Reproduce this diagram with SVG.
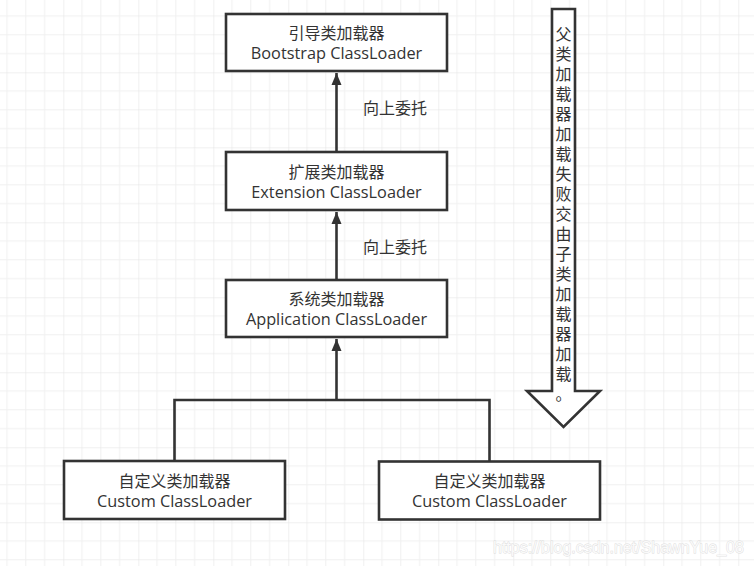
<svg xmlns="http://www.w3.org/2000/svg" width="754" height="566" viewBox="0 0 754 566">
<defs>
<pattern id="grid" patternUnits="userSpaceOnUse" x="-11.7" y="-2.7" width="75" height="75">
<path d="M18.75 0V75M37.5 0V75M56.25 0V75M0 18.75H75M0 37.5H75M0 56.25H75" stroke="#f0f0f0" stroke-width="1" fill="none"/>
<path d="M0 0V75M0 0H75" stroke="#e2e2e2" stroke-width="1" fill="none"/>
</pattern>
<marker id="arr" markerUnits="userSpaceOnUse" markerWidth="12" markerHeight="14" viewBox="0 0 12 14" refX="12" refY="6" orient="auto">
<path d="M0 1L12 6L0 11Z" fill="#333"/>
</marker>
<style>
.box{fill:#fff;stroke:#333;stroke-width:2.6}
.t{font-family:"Open Sans","Noto Sans CJK SC",sans-serif;font-size:16px;fill:#333;text-anchor:middle}
.e{font-size:16.3px}
.l{font-family:"Open Sans","Noto Sans CJK SC",sans-serif;font-size:16px;fill:#333}
.c{fill:none;stroke:#333;stroke-width:2.6}
</style>
</defs>
<rect width="754" height="566" fill="#fff"/>
<rect width="754" height="566" fill="url(#grid)"/>
<g id="connectors">
<path class="c" d="M336.5 152V73" marker-end="url(#arr)"/>
<path class="c" d="M336.5 280V212" marker-end="url(#arr)"/>
<path class="c" d="M336.5 400V339" marker-end="url(#arr)"/>
<path class="c" d="M174.5 461V400H489.5V461"/>
<text class="l" x="363" y="114">向上委托</text>
<text class="l" x="363" y="253">向上委托</text>
</g>
<g id="bootstrap">
<rect class="box" x="226" y="14" width="221" height="57"/>
<text class="t" x="336.5" y="39">引导类加载器</text>
<text class="t e" x="336.5" y="59.3">Bootstrap ClassLoader</text>
</g>
<g id="extension">
<rect class="box" x="226" y="152" width="221" height="58"/>
<text class="t" x="336.5" y="178">扩展类加载器</text>
<text class="t e" x="336.5" y="198.3">Extension ClassLoader</text>
</g>
<g id="application">
<rect class="box" x="226" y="280" width="221" height="57"/>
<text class="t" x="336.5" y="304.8">系统类加载器</text>
<text class="t e" x="336.5" y="325">Application ClassLoader</text>
</g>
<g id="custom1">
<rect class="box" x="64" y="461" width="221" height="58"/>
<text class="t" x="174.5" y="486.5">自定义类加载器</text>
<text class="t e" x="174.5" y="506.8">Custom ClassLoader</text>
</g>
<g id="custom2">
<rect class="box" x="379" y="461.5" width="221" height="58"/>
<text class="t" x="489.5" y="487">自定义类加载器</text>
<text class="t e" x="489.5" y="507.3">Custom ClassLoader</text>
</g>
<g id="fallback-arrow">
<polygon class="box" points="552,9 575,9 575,391 600,391 563.5,427 527,391 552,391"/>
<text class="t" x="563.5" y="40"><tspan x="563.5">父</tspan><tspan x="563.5" dy="20">类</tspan><tspan x="563.5" dy="20">加</tspan><tspan x="563.5" dy="20">载</tspan><tspan x="563.5" dy="20">器</tspan><tspan x="563.5" dy="20">加</tspan><tspan x="563.5" dy="20">载</tspan><tspan x="563.5" dy="20">失</tspan><tspan x="563.5" dy="20">败</tspan><tspan x="563.5" dy="20">交</tspan><tspan x="563.5" dy="20">由</tspan><tspan x="563.5" dy="20">子</tspan><tspan x="563.5" dy="20">类</tspan><tspan x="563.5" dy="20">加</tspan><tspan x="563.5" dy="20">载</tspan><tspan x="563.5" dy="20">器</tspan><tspan x="563.5" dy="20">加</tspan><tspan x="563.5" dy="20">载</tspan><tspan x="563.5" dy="20">。</tspan></text>
</g>
<text x="493" y="553" font-family="'Liberation Sans',Arial,sans-serif" font-size="16" fill="#fafafa" stroke="#dcdcdc" stroke-width="0.8" paint-order="stroke">https://blog.csdn.net/ShawnYue_08</text>
</svg>
